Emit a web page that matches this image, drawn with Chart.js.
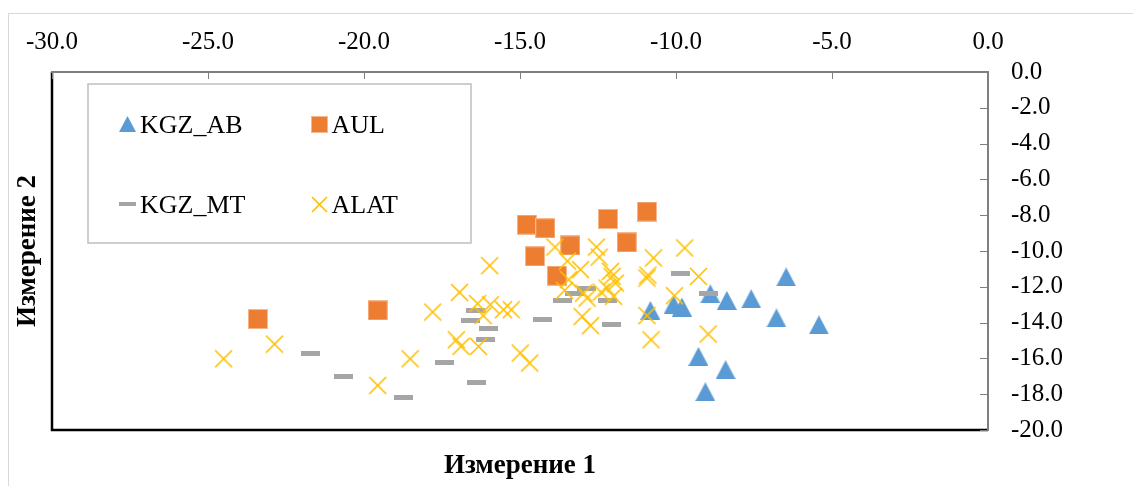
<!DOCTYPE html>
<html>
<head>
<meta charset="utf-8">
<script src="https://cdn.jsdelivr.net/npm/chart.js@4.4.1/dist/chart.umd.min.js"></script>
<style>
  html, body { margin: 0; padding: 0; background: #fff; }
  #wrap { width: 1133px; height: 486px; }
</style>
</head>
<body>
<div id="wrap"><canvas id="mdsChart" width="1133" height="486"></canvas></div>
<script>
// values
const kgzAbX = [-10.82, -10.08, -9.81, -8.90, -8.37, -7.59, -6.47, -6.78, -5.42, -9.28, -8.41, -9.06];
const kgzAbY = [-13.32, -13.00, -13.13, -12.39, -12.76, -12.67, -11.45, -13.74, -14.13, -15.89, -16.63, -17.86];

const aulX = [-14.78, -14.19, -14.52, -13.39, -13.82, -12.18, -10.93, -11.58, -23.40, -19.56];
const aulY = [-8.53, -8.73, -10.30, -9.69, -11.38, -8.21, -7.80, -9.52, -13.80, -13.32];

const kgzMtX = [-21.70, -20.66, -18.72, -16.43, -16.59, -16.01, -16.09, -17.42, -16.38, -14.29, -13.64, -13.25, -12.88, -12.21, -12.08, -9.86, -8.95];
const kgzMtY = [-15.74, -17.02, -18.20, -13.30, -13.88, -14.32, -14.97, -16.24, -17.36, -13.80, -12.76, -12.37, -12.12, -12.76, -14.10, -11.23, -12.35];

const alatX = [-24.50, -22.87, -19.56, -18.52, -17.80, -15.97, -16.94, -16.36, -15.95, -16.18, -15.53, -15.28, -17.04, -16.89, -16.33,
  -14.99, -14.69, -13.88, -13.48, -13.06, -12.55, -12.46, -13.57, -13.44, -12.85, -12.96, -13.01, -12.74, -12.05, -12.10,
  -11.94, -12.00, -12.21, -10.72, -9.72, -10.93, -10.90, -10.05, -10.93, -10.80, -9.28, -8.97, -12.40];
const alatY = [-16.02, -15.20, -17.51, -16.02, -13.41, -10.82, -12.31, -12.94, -13.00, -13.61, -13.28, -13.28, -14.96, -15.33, -15.33,
  -15.70, -16.26, -9.78, -10.56, -11.04, -9.78, -10.34, -12.20, -11.60, -12.63, -12.35, -13.66, -14.17, -11.42, -11.14,
  -11.79, -12.53, -12.07, -10.39, -9.83, -11.51, -11.35, -12.50, -13.61, -14.96, -11.42, -14.64, -12.30];

const seriesNames = ["KGZ_AB", "AUL", "KGZ_MT", "ALAT"];
const xTitle = "Измерение 1";
const yTitle = "Измерение 2";

const fontFamily = "'Liberation Serif', 'Times New Roman', serif";

function toPoints(xs, ys) {
  return xs.map((x, i) => ({ x: x, y: ys[i] }));
}

// marker pictures, centred on their own box like the Excel ones
function makeMarker(kind, s) {
  const c = document.createElement("canvas");
  const ctx = c.getContext("2d");
  if (kind === "tri") {
    c.width = Math.round(s * 1.05); c.height = s;
    ctx.fillStyle = "#5b9bd5";
    ctx.beginPath();
    ctx.moveTo(c.width / 2, 0);
    ctx.lineTo(c.width, c.height);
    ctx.lineTo(0, c.height);
    ctx.closePath();
    ctx.fill();
  } else if (kind === "sq") {
    c.width = s; c.height = s;
    ctx.fillStyle = "#ed7d31";
    ctx.fillRect(0, 0, s, s);
    ctx.strokeStyle = "rgba(255,255,255,0.45)";
    ctx.lineWidth = 1;
    ctx.strokeRect(0.5, 0.5, s - 1, s - 1);
  } else if (kind === "dash") {
    c.width = s; c.height = Math.max(4, Math.round(s * 0.26));
    ctx.fillStyle = "#a5a5a5";
    ctx.fillRect(0, 0, c.width, c.height);
  } else {
    c.width = s; c.height = s;
    ctx.strokeStyle = "#ffc000";
    ctx.lineWidth = 1.7;
    ctx.beginPath();
    ctx.moveTo(1, 1); ctx.lineTo(s - 1, s - 1);
    ctx.moveTo(s - 1, 1); ctx.lineTo(1, s - 1);
    ctx.stroke();
  }
  return c;
}

const plotMarkers = [makeMarker("tri", 19), makeMarker("sq", 20), makeMarker("dash", 19), makeMarker("x", 19)];
const legendMarkers = [makeMarker("tri", 16), makeMarker("sq", 17), makeMarker("dash", 17), makeMarker("x", 17)];

const frame = {
  id: "frame",
  beforeDraw(chart) {
    const ctx = chart.ctx;
    ctx.save();
    ctx.strokeStyle = "#d9d9d9";
    ctx.lineWidth = 1;
    ctx.strokeRect(8.5, 13.5, 1300, 600);
    ctx.restore();
  },
  afterDatasetsDraw(chart) {
    const ctx = chart.ctx;
    const a = chart.chartArea;
    const sx = chart.scales.x;
    const sy = chart.scales.y;
    ctx.save();
    // plot border
    ctx.strokeStyle = "#000";
    ctx.lineWidth = 2.5;
    ctx.beginPath();
    ctx.moveTo(a.left, a.top);
    ctx.lineTo(a.left, a.bottom);
    ctx.lineTo(a.right, a.bottom);
    ctx.stroke();
    ctx.strokeStyle = "#7f7f7f";
    ctx.lineWidth = 2;
    ctx.beginPath();
    ctx.moveTo(a.left - 1, a.top);
    ctx.lineTo(a.right, a.top);
    ctx.lineTo(a.right, a.bottom + 1);
    ctx.stroke();
    // inner tick marks
    ctx.lineWidth = 1;
    ctx.beginPath();
    sx.ticks.forEach(t => {
      const px = Math.round(sx.getPixelForValue(t.value)) + 0.5;
      ctx.moveTo(px, a.top);
      ctx.lineTo(px, a.top + 7);
    });
    sy.ticks.forEach(t => {
      const py = Math.round(sy.getPixelForValue(t.value)) + 0.5;
      ctx.moveTo(a.right, py);
      ctx.lineTo(a.right - 8, py);
    });
    ctx.stroke();

    // legend box
    ctx.fillStyle = "#fff";
    ctx.fillRect(88, 84, 383, 159);
    ctx.strokeStyle = "#bfbfbf";
    ctx.lineWidth = 1.5;
    ctx.strokeRect(88, 84, 383, 159);
    const cells = [[127.5, 124], [319, 124], [127.5, 204], [319, 204]];
    ctx.font = "26px " + fontFamily;
    ctx.fillStyle = "#000";
    ctx.textBaseline = "alphabetic";
    seriesNames.forEach((name, i) => {
      const m = legendMarkers[i];
      const [cx, cy] = cells[i];
      ctx.drawImage(m, Math.round(cx - m.width / 2), Math.round(cy - m.height / 2));
      ctx.fillText(name, cx + 12.5, cy + 9);
    });
    ctx.restore();
  }
};

const ctx = document.getElementById("mdsChart").getContext("2d");
const chart = new Chart(ctx, {
  type: "scatter",
  data: {
    datasets: [
      { label: seriesNames[0], data: toPoints(kgzAbX, kgzAbY), pointStyle: plotMarkers[0], pointRadius: 10, order: 3 },
      { label: seriesNames[1], data: toPoints(aulX, aulY), pointStyle: plotMarkers[1], pointRadius: 10, order: 2 },
      { label: seriesNames[2], data: toPoints(kgzMtX, kgzMtY), pointStyle: plotMarkers[2], pointRadius: 10, order: 1 },
      { label: seriesNames[3], data: toPoints(alatX, alatY), pointStyle: plotMarkers[3], pointRadius: 10, order: 0 }
    ]
  },
  options: {
    responsive: false,
    animation: false,
    layout: { padding: 0 },
    plugins: {
      legend: { display: false },
      tooltip: { enabled: false }
    },
    scales: {
      x: {
        type: "linear",
        position: "top",
        min: -30,
        max: 0,
        ticks: {
          stepSize: 5,
          padding: 15,
          color: "#000",
          font: { family: fontFamily, size: 25 },
          callback: v => v.toFixed(1)
        },
        grid: { display: false, drawTicks: false },
        border: { display: false },
        afterFit: s => { s.height = 72; }
      },
      y: {
        type: "linear",
        position: "right",
        min: -20,
        max: 0,
        ticks: {
          stepSize: 2,
          padding: 23,
          color: "#000",
          font: { family: fontFamily, size: 25 },
          callback: v => v.toFixed(1)
        },
        grid: { display: false, drawTicks: false },
        border: { display: false },
        afterFit: s => { s.width = 145; }
      },
      xTitle: {
        type: "linear",
        position: "bottom",
        ticks: { display: false },
        grid: { display: false, drawTicks: false },
        border: { display: false },
        title: {
          display: true,
          text: xTitle,
          color: "#000",
          font: { family: fontFamily, size: 27, weight: "bold" },
          padding: { top: 0, bottom: 4 }
        },
        afterFit: s => { s.height = 56; }
      },
      yTitle: {
        type: "linear",
        position: "left",
        ticks: { display: false },
        grid: { display: false, drawTicks: false },
        border: { display: false },
        title: {
          display: true,
          text: yTitle,
          color: "#000",
          font: { family: fontFamily, size: 27, weight: "bold" },
          padding: { top: 12, bottom: 0 }
        },
        afterFit: s => { s.width = 52; }
      }
    }
  },
  plugins: [frame]
});
</script>
</body>
</html>
